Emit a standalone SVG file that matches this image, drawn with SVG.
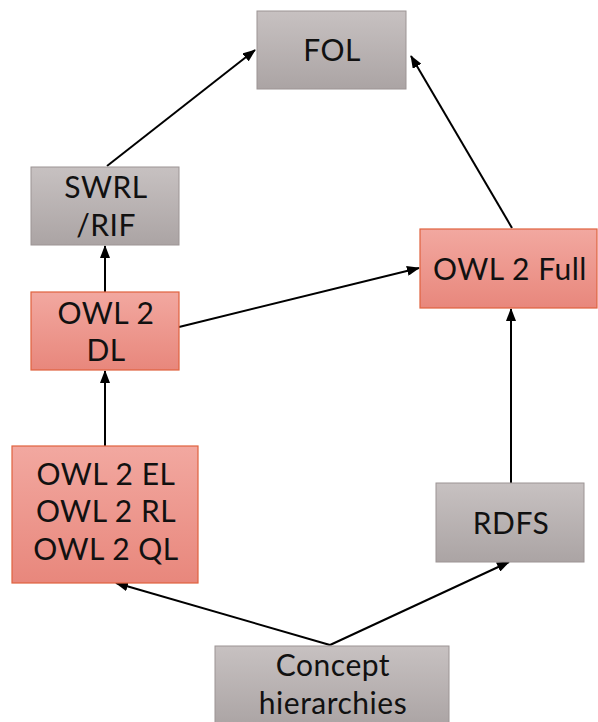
<svg xmlns="http://www.w3.org/2000/svg" width="598" height="722" viewBox="0 0 598 722">
<defs>
<linearGradient id="gGray" x1="0" y1="0" x2="0" y2="1"><stop offset="0" stop-color="#c7c1c1"/><stop offset="1" stop-color="#aba4a4"/></linearGradient>
<linearGradient id="gRed" x1="0" y1="0" x2="0" y2="1"><stop offset="0" stop-color="#f2a8a0"/><stop offset="1" stop-color="#e8877c"/></linearGradient>
<marker id="ah" markerWidth="13" markerHeight="10" refX="12" refY="5" orient="auto" markerUnits="userSpaceOnUse"><path d="M0,0 L13,5 L0,10 Z" fill="#000"/></marker>
<style>
.gray{fill:url(#gGray);stroke:#9c9494;stroke-width:1}
.red{fill:url(#gRed);stroke:#e0623e;stroke-width:1.2}
.t{font-family:"Lato","Open Sans","DejaVu Sans",sans-serif;font-size:30px;letter-spacing:0.5px;fill:#111;text-anchor:middle}
.c{stroke:#000;stroke-width:2;fill:none;marker-end:url(#ah)}
</style>
</defs>
<g id="connectors">
<line class="c" x1="107" y1="166" x2="255" y2="50"/>
<line class="c" x1="512" y1="228" x2="411" y2="56"/>
<line class="c" x1="105" y1="292" x2="105" y2="246"/>
<line class="c" x1="179" y1="327" x2="419" y2="268"/>
<line class="c" x1="105" y1="446" x2="105" y2="371"/>
<line class="c" x1="511" y1="483" x2="511" y2="309"/>
<line class="c" x1="330" y1="645" x2="116" y2="583"/>
<line class="c" x1="330" y1="645" x2="509" y2="562"/>
</g>
<g id="fol"><rect class="gray" x="257" y="11" width="149" height="78"/><text class="t" x="332" y="61">FOL</text></g>
<g id="swrl"><rect class="gray" x="31" y="167" width="148" height="78"/><text class="t" x="106" y="198">SWRL</text><text class="t" x="106" y="236">/RIF</text></g>
<g id="owl2dl"><rect class="red" x="31" y="292" width="148" height="78"/><text class="t" x="106" y="324">OWL 2</text><text class="t" x="106" y="361">DL</text></g>
<g id="owl2full"><rect class="red" x="420" y="229" width="177" height="79"/><text class="t" x="510" y="280">OWL 2 Full</text></g>
<g id="owl2profiles"><rect class="red" x="12" y="446" width="186" height="137"/><text class="t" x="106" y="485">OWL 2 EL</text><text class="t" x="106" y="522">OWL 2 RL</text><text class="t" x="106" y="560">OWL 2 QL</text></g>
<g id="rdfs"><rect class="gray" x="436" y="483" width="148" height="79"/><text class="t" x="511" y="534">RDFS</text></g>
<g id="concept"><rect class="gray" x="215" y="646" width="234" height="80"/><text class="t" x="333" y="676">Concept</text><text class="t" x="333" y="714">hierarchies</text></g>
</svg>
